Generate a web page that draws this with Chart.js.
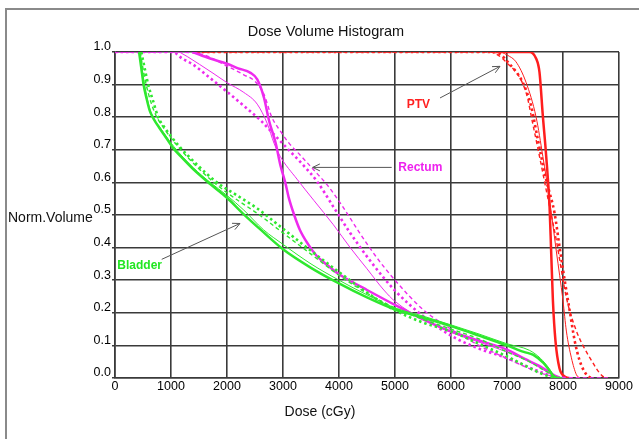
<!DOCTYPE html>
<html><head><meta charset="utf-8">
<script src="https://cdn.jsdelivr.net/npm/chart.js@4/dist/chart.umd.min.js"></script>
<style>html,body{margin:0;padding:0;background:#fff}</style>
</head><body>
<canvas id="c" width="639" height="439"></canvas>
<script>
// ---- tick labels / categories ----
const xTickValues = [0,1000,2000,3000,4000,5000,6000,7000,8000,9000];
const yTickValues = [0,0.1,0.2,0.3,0.4,0.5,0.6,0.7,0.8,0.9,1.0];
const titleText = "Dose Volume Histogram";
const xTitle = "Dose (cGy)";
const yTitle = "Norm.Volume";

// ---- Bladder (green) ----
const bladderThickDose = [430,470,510,560,620,690,800,900,1040,1200,1400,1700,2000,2300,2600,3000,3500,4000,4500,5000,5500,6000,6500,7000,7300,7470,7650,7770,7830,7900];
const bladderThickVol  = [1.0,0.95,0.9,0.86,0.82,0.795,0.765,0.74,0.705,0.675,0.64,0.595,0.553,0.502,0.455,0.395,0.338,0.29,0.247,0.21,0.185,0.159,0.13,0.10,0.08,0.071,0.046,0.02,0.005,0];
const bladderThinDose  = [450,500,560,650,800,1050,1400,1700,2000,2300,2650,3000,3500,4000,4500,5000,5500,6000,6500,7000,7400,7600,7750,7850,7950];
const bladderThinVol   = [1.0,0.93,0.87,0.81,0.77,0.71,0.645,0.6,0.56,0.515,0.455,0.41,0.35,0.3,0.255,0.215,0.19,0.163,0.135,0.105,0.085,0.06,0.03,0.005,0];
const bladderDotDose   = [470,530,593,680,772,900,1100,1460,1820,2180,2540,3000,3500,4000,4500,5000,5500,6000,6500,7000,7300,7590,7800,7900];
const bladderDotVol    = [1.0,0.95,0.9,0.85,0.8,0.765,0.72,0.655,0.6,0.56,0.52,0.458,0.39,0.325,0.262,0.208,0.17,0.143,0.105,0.066,0.04,0.015,0.003,0];
const bladderDashDose  = [450,520,600,720,900,1100,1450,1800,2150,2540,3000,3500,4000,4500,5000,5500,6000,6500,7000,7400,7700,7900,8000];
const bladderDashVol   = [1.0,0.93,0.87,0.81,0.76,0.715,0.65,0.595,0.55,0.505,0.445,0.38,0.315,0.26,0.215,0.18,0.15,0.12,0.08,0.05,0.02,0.003,0];

// ---- Rectum (magenta) ----
const rectumThickDose = [1390,1700,2000,2200,2420,2540,2660,2750,2870,2950,3040,3100,3200,3300,3450,3600,3800,4000,4200,4500,5000,5500,6000,6500,7000,7300,7590,7830,7950];
const rectumThickVol  = [1.0,0.98,0.964,0.95,0.936,0.916,0.86,0.79,0.72,0.655,0.60,0.555,0.5,0.455,0.41,0.375,0.345,0.318,0.298,0.27,0.224,0.18,0.143,0.115,0.087,0.06,0.036,0.01,0];
const rectumThinDose  = [1150,1300,1510,1750,2000,2300,2540,2720,2840,2950,3250,3550,3900,4200,4500,4800,5000,5500,6000,6500,7000,7400,7700,7900,8000];
const rectumThinVol   = [1.0,0.985,0.962,0.935,0.906,0.876,0.84,0.78,0.72,0.68,0.61,0.545,0.47,0.40,0.335,0.27,0.235,0.18,0.14,0.11,0.08,0.05,0.02,0.003,0];
const rectumDotDose   = [0,1030,1200,1390,1700,2000,2300,2600,2850,3100,3350,3600,3900,4200,4600,5000,5500,6000,6500,7000,7500,7830,8000];
const rectumDotVol    = [1.0,1.0,0.98,0.962,0.92,0.878,0.835,0.79,0.745,0.70,0.655,0.605,0.525,0.445,0.35,0.268,0.19,0.13,0.09,0.061,0.025,0.005,0];
const rectumDashDose  = [0,1000,1500,2000,2300,2500,2660,2800,2950,3100,3300,3550,3800,4050,4350,4650,5000,5500,6000,6500,7000,7500,7800,8200,8800];
const rectumDashVol   = [1.0,1.0,0.995,0.957,0.93,0.91,0.87,0.80,0.758,0.722,0.685,0.638,0.59,0.53,0.45,0.375,0.30,0.21,0.15,0.1,0.06,0.022,0.006,0.001,0];

// ---- PTV (red) ----
const ptvThickDose = [6800,7400,7520,7580,7640,7700,7760,7790,7820,7866,7937,8027,8100];
const ptvThickVol  = [1.0,1.0,0.98,0.938,0.804,0.68,0.526,0.38,0.237,0.113,0.03,0.005,0];
const ptvThinDose  = [6900,7010,7160,7340,7520,7640,7760,7880,8000,8060,8150,8240,8300];
const ptvThinVol   = [1.0,0.99,0.97,0.907,0.80,0.68,0.546,0.39,0.237,0.144,0.062,0.01,0];
const ptvDotDose   = [1450,6700,6860,7040,7280,7430,7550,7700,7850,7940,8030,8120,8210,8300,8420,8500];
const ptvDotVol    = [1.0,1.0,0.995,0.964,0.907,0.835,0.732,0.608,0.505,0.40,0.30,0.206,0.113,0.052,0.01,0];
const ptvDashDose  = [1450,6680,6980,7340,7460,7580,7700,7880,8060,8240,8480,8710,8800];
const ptvDashVol   = [1.0,1.0,0.97,0.876,0.78,0.68,0.577,0.423,0.247,0.144,0.062,0.005,0];

// ---- annotations (label, colour, text anchor [dose,vol], arrow from, arrow to) ----
const annoLabels = ["PTV","Rectum","Bladder"];
const annoColors = ["#ff2020","#ee22ee","#22e622"];
const annoTextPos = [[5210,0.838],[5059,0.644],[41,0.343]];
const annoArrowFrom = [[5804,0.859],[4941,0.646],[834,0.364]];
const annoArrowTo   = [[6875,0.956],[3530,0.646],[2232,0.474]];

const GREEN = "#2ee82e", MAGENTA = "#ee2aee", RED = "#ff1e1e";
const pts = (d, v) => d.map((x, i) => ({x: x, y: v[i]}));
function ds(d, v, color, style) {
  const o = {data: pts(d, v), borderColor: color, backgroundColor: color, pointRadius: 0,
    fill: false, cubicInterpolationMode: 'monotone', borderCapStyle: 'butt'};
  if (style === 'thick') { o.borderWidth = 2.5; }
  if (style === 'thin') { o.borderWidth = 1; }
  if (style === 'dot') { o.borderWidth = 2.6; o.borderDash = [2.5, 3]; }
  if (style === 'dash') { o.borderWidth = 1.4; o.borderDash = [4, 3]; }
  return o;
}

const FONT = "'Liberation Sans', Arial, sans-serif";
Chart.defaults.font.family = FONT;

const overlay = {
  id: 'overlay',
  afterDraw(chart) {
    const ctx = chart.ctx, xs = chart.scales.x, ys = chart.scales.y;
    ctx.save();
    // outer frame
    ctx.strokeStyle = '#8a8a8a'; ctx.lineWidth = 2;
    ctx.beginPath(); ctx.moveTo(6, 439); ctx.lineTo(6, 9); ctx.lineTo(639, 9); ctx.stroke();
    // title & axis titles
    ctx.fillStyle = '#111'; ctx.textBaseline = 'middle';
    ctx.font = '14.5px ' + FONT; ctx.textAlign = 'center';
    ctx.fillText(titleText, 326, 32);
    ctx.font = '14px ' + FONT;
    ctx.fillText(xTitle, 320, 412);
    ctx.textAlign = 'left';
    ctx.fillText(yTitle, 8, 218);
    // annotations
    ctx.font = 'bold 12px ' + FONT;
    for (let i = 0; i < annoLabels.length; i++) {
      ctx.fillStyle = annoColors[i];
      ctx.fillText(annoLabels[i], xs.getPixelForValue(annoTextPos[i][0]), ys.getPixelForValue(annoTextPos[i][1]));
      const x1 = xs.getPixelForValue(annoArrowFrom[i][0]), y1 = ys.getPixelForValue(annoArrowFrom[i][1]);
      const x2 = xs.getPixelForValue(annoArrowTo[i][0]), y2 = ys.getPixelForValue(annoArrowTo[i][1]);
      ctx.strokeStyle = '#555'; ctx.lineWidth = 1;
      ctx.beginPath(); ctx.moveTo(x1, y1); ctx.lineTo(x2, y2); ctx.stroke();
      const a = Math.atan2(y2 - y1, x2 - x1), L = 8, w = 0.45;
      ctx.beginPath();
      ctx.moveTo(x2 - L * Math.cos(a - w), y2 - L * Math.sin(a - w));
      ctx.lineTo(x2, y2);
      ctx.lineTo(x2 - L * Math.cos(a + w), y2 - L * Math.sin(a + w));
      ctx.stroke();
    }
    ctx.restore();
  }
};

new Chart(document.getElementById('c'), {
  type: 'line',
  data: {
    datasets: [
      ds(bladderThickDose, bladderThickVol, GREEN, 'thick'),
      ds(bladderThinDose, bladderThinVol, GREEN, 'thin'),
      ds(bladderDotDose, bladderDotVol, GREEN, 'dot'),
      ds(bladderDashDose, bladderDashVol, GREEN, 'dash'),
      ds(rectumThickDose, rectumThickVol, MAGENTA, 'thick'),
      ds(rectumThinDose, rectumThinVol, MAGENTA, 'thin'),
      ds(rectumDotDose, rectumDotVol, MAGENTA, 'dot'),
      ds(rectumDashDose, rectumDashVol, MAGENTA, 'dash'),
      ds(ptvThickDose, ptvThickVol, RED, 'thick'),
      ds(ptvThinDose, ptvThinVol, RED, 'thin'),
      ds(ptvDotDose, ptvDotVol, RED, 'dot'),
      ds(ptvDashDose, ptvDashVol, RED, 'dash')
    ]
  },
  options: {
    responsive: false, animation: false, devicePixelRatio: 1,
    layout: {padding: {top: 52, right: 20, bottom: 0, left: 0}},
    plugins: {legend: {display: false}, tooltip: {enabled: false}, title: {display: false}},
    scales: {
      x: {
        type: 'linear', min: 0, max: 9000,
        afterBuildTicks: s => { s.ticks = xTickValues.map(v => ({value: v})); },
        afterFit: s => { s.height = 61; },
        grid: {color: '#3a3a3a', lineWidth: 1.6, drawTicks: false},
        border: {color: '#3a3a3a', width: 1.6},
        ticks: {color: '#000', font: {size: 12.5}, padding: 1, maxRotation: 0, autoSkip: false,
                callback: v => String(v)}
      },
      y: {
        min: 0, max: 1,
        afterBuildTicks: s => { s.ticks = yTickValues.map(v => ({value: v})); },
        afterFit: s => { s.width = 115; },
        grid: {color: '#3a3a3a', lineWidth: 1.6, tickLength: 3},
        border: {color: '#3a3a3a', width: 1.6},
        ticks: {color: '#000', font: {size: 12.5}, padding: 1, labelOffset: -5, autoSkip: false,
                callback: v => Number(v).toFixed(1)}
      }
    }
  },
  plugins: [overlay]
});
</script>
</body></html>
